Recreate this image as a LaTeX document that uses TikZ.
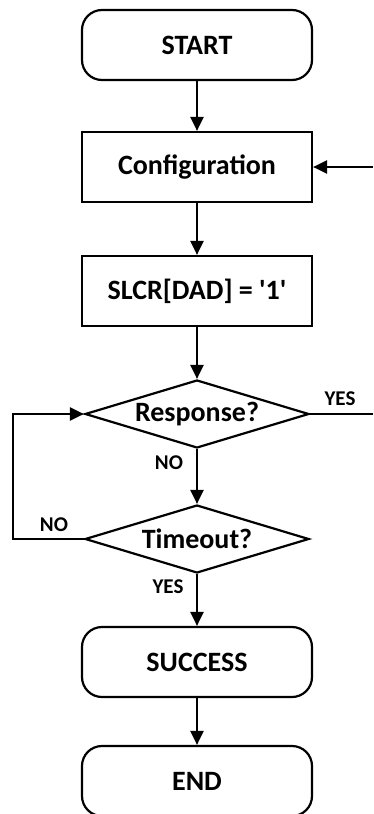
\documentclass[tikz,border=0pt]{standalone}
\usepackage{fontspec}
\setmainfont{Carlito}
\usetikzlibrary{arrows.meta,shapes.geometric}
\begin{document}
\begin{tikzpicture}[x=1pt,y=-1pt,
  line width=2.2pt,
  every node/.style={font=\bfseries\fontsize{28}{32}\selectfont},
  lbl/.style={font=\bfseries\fontsize{21}{24}\selectfont, inner sep=0pt},
  term/.style={draw, rounded corners=20pt, minimum width=230pt, minimum height=70pt, inner sep=0pt},
  proc/.style={draw, minimum width=230pt, minimum height=70pt, inner sep=0pt},
  dec/.style={draw, diamond, minimum width=224pt, minimum height=68pt, inner sep=0pt},
  arr/.style={-{Triangle[length=14pt,width=13pt]}, line width=2.2pt}]
\useasboundingbox (0,0) rectangle (373,814);
\node[term] (start) at (197,45) {START};
\node[proc] (config) at (197,167) {Configuration};
\node[proc] (slcr) at (197,291) {SLCR[DAD] = \textquotesingle1\textquotesingle};
\node[dec, label=center:{Response?}] (resp) at (197,414) {};
\node[dec, label=center:{Timeout?}] (tout) at (197,539) {};
\node[term] (succ) at (197,662) {SUCCESS};
\node[term] (end) at (197,781) {END};
\coordinate (rin) at (373,167);
\coordinate (rout) at (373,414);
\coordinate (lb) at (13,539);
\coordinate (lt) at (13,414);
\draw[arr] (start.south) -- (config.north);
\draw[arr] (config.south) -- (slcr.north);
\draw[arr] (slcr.south) -- (resp.north);
\draw[arr] (resp.south) -- (tout.north);
\draw[arr] (tout.south) -- (succ.north);
\draw[arr] (succ.south) -- (end.north);
\draw[arr] (rin) -- (config.east);
\draw (resp.east) -- (rout);
\draw[arr] (tout.west) -- (lb) -- (lt) -- (resp.west);
\node[lbl] (yes1) at (340,399) {YES};
\node[lbl] (no1) at (169,463) {NO};
\node[lbl] (no2) at (54,525) {NO};
\node[lbl] (yes2) at (168,587) {YES};
\end{tikzpicture}
\end{document}
